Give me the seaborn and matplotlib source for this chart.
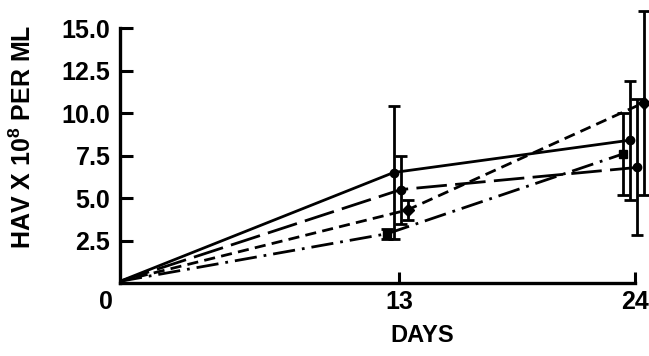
import numpy as np
import pandas as pd
import seaborn as sns
import matplotlib.pyplot as plt
import matplotlib.transforms as mtransforms

# data (HAV x 10^8 per ml)
days = [0, 13, 24]
series = ["solid", "long", "short", "dashdot"]
hav_solid = [0.1, 6.5, 8.4]
hav_long = [0.1, 5.5, 6.8]
hav_short = [0.1, 4.3, 10.6]
hav_dashdot = [0.1, 2.9, 7.6]
err_solid = [0, 3.9, 3.5]
err_long = [0, 2.0, 4.0]
err_short = [0, 0.6, 5.4]
err_dashdot = [0, 0.3, 2.4]

values = dict(zip(series, [hav_solid, hav_long, hav_short, hav_dashdot]))
errors = dict(zip(series, [err_solid, err_long, err_short, err_dashdot]))

# styling: small horizontal dodge so error bars don't overlap
dodge = {"solid": -0.25, "long": 0.1, "short": 0.4, "dashdot": -0.55}
dashes = {"solid": "", "long": (22, 6), "short": (8, 4.5), "dashdot": (16, 5, 2, 5)}
markers = {"solid": "o", "long": "o", "short": "D", "dashdot": "s"}

rows = []
for s in series:
    for d, v, e in zip(days, values[s], errors[s]):
        x = d + (dodge[s] if d > 0 else 0)
        rows.append({"series": s, "day": x, "hav": v, "err": e})
df = pd.DataFrame(rows)

sns.set_style("ticks", {"axes.edgecolor": "black", "text.color": "black",
                        "xtick.color": "black", "ytick.color": "black",
                        "axes.labelcolor": "black"})
plt.rcParams["font.family"] = ["Liberation Sans", "DejaVu Sans"]
plt.rcParams["mathtext.fontset"] = "custom"
plt.rcParams["mathtext.rm"] = "Liberation Sans:bold"
plt.rcParams["lines.scale_dashes"] = False

fig = plt.figure(figsize=(6.49, 3.56), dpi=100)
ax = fig.add_axes([120 / 649, 73 / 356, 529 / 649, 283 / 356])

sns.lineplot(data=df, x="day", y="hav", style="series", dashes=dashes,
             color="black", linewidth=2.0, legend=False, ax=ax,
             estimator=None, sort=False)

for s in series:
    sub = df[(df["series"] == s) & (df["day"] > 0)]
    ax.errorbar(sub["day"], sub["hav"], yerr=sub["err"], fmt=markers[s],
                color="black", ms=6, capsize=4, elinewidth=2, capthick=2)

ax.set_xlim(0, 24.65)
ax.set_ylim(0, 16.65)
ax.set_yticks([2.5, 5.0, 7.5, 10.0, 12.5, 15.0])
ax.set_yticklabels(["2.5", "5.0", "7.5", "10.0", "12.5", "15.0"],
                   fontsize=18, fontweight="bold")
ax.set_xticks([0, 13, 24])
ax.set_xticklabels(["0", "13", "24"], fontsize=18, fontweight="bold")

sns.despine(ax=ax)
ax.spines["left"].set_bounds(0, 15)
ax.spines["bottom"].set_bounds(0, 24)
for sp in ["left", "bottom"]:
    ax.spines[sp].set_linewidth(2.4)
ax.tick_params(axis="y", direction="in", length=9, width=2.2, pad=7)
ax.tick_params(axis="x", direction="in", length=8, width=2.2, pad=5)
ax.xaxis.get_major_ticks()[0].tick1line.set_visible(False)
lab0 = ax.get_xticklabels()[0]
lab0.set_transform(lab0.get_transform() +
                   mtransforms.ScaledTranslation(-14 / 100, 0, fig.dpi_scale_trans))

ax.set_ylabel(r"HAV X 10$^{8}$ PER ML", fontsize=18, fontweight="bold")
ax.set_xlabel("DAYS", fontsize=17, fontweight="bold")
ax.yaxis.set_label_coords(-0.158, 0.515)
ax.xaxis.set_label_coords(0.571, -0.145)

fig.savefig("out.png", dpi=100)
